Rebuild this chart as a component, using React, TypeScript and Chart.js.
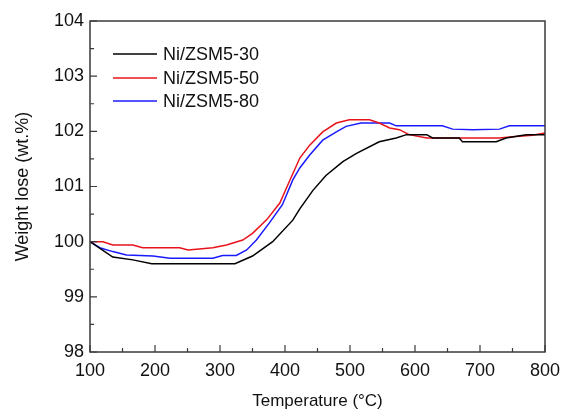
import React, { useEffect, useRef } from "react";
import { Chart, registerables } from "chart.js";

Chart.register(...registerables);

const temps30 = [100, 135, 166, 195, 323, 350, 381, 412, 423, 443, 463, 489, 510, 545, 571, 587, 618, 627, 668, 673, 725, 740, 771, 800];
const vals30 = [100.0, 99.72, 99.67, 99.6, 99.6, 99.74, 100.0, 100.39, 100.6, 100.93, 101.2, 101.45, 101.6, 101.81, 101.88, 101.94, 101.94, 101.88, 101.88, 101.81, 101.81, 101.88, 101.94, 101.94];

const temps50 = [100, 120, 135, 166, 181, 238, 251, 289, 310, 335, 350, 372, 392, 407, 423, 438, 458, 479, 499, 530, 545, 561, 576, 591, 618, 730, 750, 781, 800];
const vals50 = [100.0, 100.0, 99.94, 99.94, 99.89, 99.89, 99.85, 99.89, 99.94, 100.03, 100.15, 100.4, 100.7, 101.1, 101.52, 101.75, 101.99, 102.15, 102.21, 102.21, 102.15, 102.06, 102.03, 101.94, 101.88, 101.88, 101.9, 101.93, 101.97];

const temps80 = [100, 115, 135, 156, 197, 223, 289, 304, 325, 341, 356, 376, 396, 412, 423, 438, 458, 479, 494, 517, 561, 571, 642, 658, 689, 730, 745, 800];
const vals80 = [100.0, 99.89, 99.82, 99.76, 99.74, 99.7, 99.7, 99.75, 99.75, 99.85, 100.03, 100.34, 100.67, 101.12, 101.34, 101.57, 101.84, 101.99, 102.09, 102.15, 102.15, 102.1, 102.1, 102.04, 102.03, 102.04, 102.1, 102.1];

const seriesLabels = ["Ni/ZSM5-30", "Ni/ZSM5-50", "Ni/ZSM5-80"];
const seriesColors = ["#000000", "#e8131b", "#1a1aff"];
const xTickLabels = [100, 200, 300, 400, 500, 600, 700, 800];
const yTickLabels = [98, 99, 100, 101, 102, 103, 104];

const FONT = "Liberation Sans, Arial, sans-serif";
const AXIS_COLOR = "#3a3a3a";

const framePlugin = {
  id: "frameTicks",
  afterDatasetsDraw(chart: any) {
    const { ctx, chartArea, scales } = chart;
    const { left, right, top, bottom } = chartArea;
    const xs = scales.x;
    const ys = scales.y;
    ctx.save();
    ctx.strokeStyle = AXIS_COLOR;
    ctx.lineWidth = 1.5;
    ctx.strokeRect(left, top, right - left, bottom - top);
    ctx.lineWidth = 1.2;
    ctx.beginPath();
    for (let v = 100; v <= 800; v += 50) {
      const px = xs.getPixelForValue(v);
      const len = v % 100 === 0 ? 7 : 4;
      ctx.moveTo(px, bottom);
      ctx.lineTo(px, bottom - len);
    }
    for (let v = 98; v <= 104; v += 0.5) {
      const py = ys.getPixelForValue(v);
      const len = Math.abs(v - Math.round(v)) < 1e-6 ? 7 : 4;
      ctx.moveTo(left, py);
      ctx.lineTo(left + len, py);
    }
    ctx.stroke();

    // legend
    const lx0 = 113, lx1 = 157, tx = 163;
    const rows = [54, 78, 101];
    ctx.font = `18px ${FONT}`;
    ctx.textBaseline = "middle";
    ctx.textAlign = "left";
    chart.data.datasets.forEach((ds: any, i: number) => {
      ctx.strokeStyle = ds.borderColor;
      ctx.lineWidth = 1.5;
      ctx.beginPath();
      ctx.moveTo(lx0, rows[i]);
      ctx.lineTo(lx1, rows[i]);
      ctx.stroke();
      ctx.fillStyle = "#111";
      ctx.fillText(ds.label, tx, rows[i] + 1);
    });
    ctx.restore();
  },
};

export default function App() {
  const ref = useRef<HTMLCanvasElement | null>(null);
  useEffect(() => {
    if (!ref.current) return;
    const mk = (t: number[], v: number[]) => t.map((x, i) => ({ x, y: v[i] }));
    const chart = new Chart(ref.current, {
      type: "line",
      data: {
        datasets: [
          { label: seriesLabels[0], data: mk(temps30, vals30), borderColor: seriesColors[0] },
          { label: seriesLabels[1], data: mk(temps50, vals50), borderColor: seriesColors[1] },
          { label: seriesLabels[2], data: mk(temps80, vals80), borderColor: seriesColors[2] },
        ].map((d) => ({ ...d, borderWidth: 1.5, pointRadius: 0, tension: 0, fill: false })),
      },
      options: {
        responsive: false,
        animation: false,
        layout: { padding: { left: 0, top: 21, right: 16, bottom: 0 } },
        plugins: { legend: { display: false }, tooltip: { enabled: false } },
        scales: {
          x: {
            type: "linear",
            min: 100,
            max: 800,
            afterBuildTicks: (s: any) => {
              s.ticks = xTickLabels.map((v) => ({ value: v }));
            },
            afterFit: (s: any) => {
              s.height = 60;
              s.paddingLeft = 0;
              s.paddingRight = 0;
            },
            grid: { display: false, drawTicks: false },
            border: { display: false },
            ticks: { color: "#111", font: { family: FONT, size: 18 }, padding: 8, maxRotation: 0 },
            title: {
              display: true,
              text: "Temperature (°C)",
              color: "#111",
              font: { family: FONT, size: 17 },
              padding: { top: 0, bottom: 0 },
            },
          },
          y: {
            type: "linear",
            min: 98,
            max: 104,
            afterBuildTicks: (s: any) => {
              s.ticks = yTickLabels.map((v) => ({ value: v }));
            },
            afterFit: (s: any) => {
              s.width = 90;
              s.paddingTop = 0;
              s.paddingBottom = 0;
            },
            grid: { display: false, drawTicks: false },
            border: { display: false },
            ticks: { color: "#111", font: { family: FONT, size: 18 }, padding: 6 },
            title: {
              display: true,
              text: "Weight lose (wt.%)",
              color: "#111",
              font: { family: FONT, size: 18 },
              padding: { top: 12, bottom: 0 },
            },
          },
        },
      },
      plugins: [framePlugin],
    });
    return () => chart.destroy();
  }, []);
  return (
    <div style={{ position: "absolute", left: 0, top: 0, width: 561, height: 412, background: "#fff" }}>
      <canvas ref={ref} width={561} height={412} style={{ width: 561, height: 412 }} />
    </div>
  );
}
